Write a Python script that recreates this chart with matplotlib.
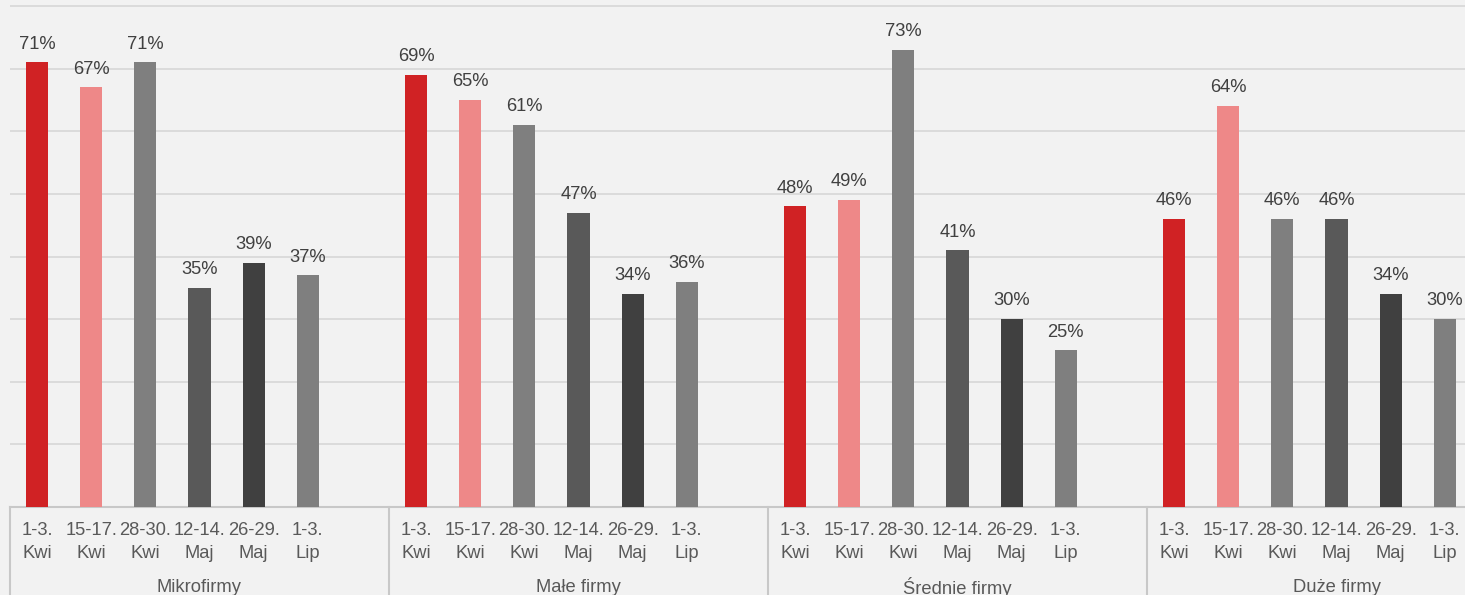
import matplotlib
matplotlib.use("Agg")
import matplotlib.pyplot as plt
from matplotlib.lines import Line2D
import matplotlib.transforms as mtransforms

plt.rcParams['font.family'] = ['Liberation Sans', 'DejaVu Sans']

groups = ["Mikrofirmy", "Małe firmy", "Średnie firmy", "Duże firmy"]
periods = ["1-3.\nKwi", "15-17.\nKwi", "28-30.\nKwi", "12-14.\nMaj", "26-29.\nMaj", "1-3.\nLip"]
mikro = [71, 67, 71, 35, 39, 37]
male = [69, 65, 61, 47, 34, 36]
srednie = [48, 49, 73, 41, 30, 25]
duze = [46, 64, 46, 46, 34, 30]
series_by_group = [mikro, male, srednie, duze]
colors = ["#d02224", "#ee8888", "#7f7f7f", "#595959", "#404040", "#7f7f7f"]

W, H = 1465, 595
fig = plt.figure(figsize=(W / 100, H / 100), dpi=100)
fig.patch.set_facecolor("#f2f2f2")

n_slots = 7 * len(groups)
left_px, base_px, grid_top_px, top_px = 10, 507, 6, 3
slot_px = 379 / 7
right_px = left_px + n_slots * slot_px
ax = fig.add_axes([left_px / W, (H - base_px) / H, (right_px - left_px) / W, (base_px - top_px) / H])
ax.set_facecolor("#f2f2f2")

FS = 13.2
xs, labels = [], []
for g, vals in enumerate(series_by_group):
    for j, v in enumerate(vals):
        x = g * 7 + j
        ax.bar(x, v, width=0.41, color=colors[j], zorder=3)
        ax.annotate(f"{v}%", (x, v), xytext=(0, 7), textcoords="offset points",
                    ha="center", va="bottom", fontsize=FS, color="#404040")
        xs.append(x)
        labels.append(periods[j])

ax.set_xlim(-0.5, n_slots - 0.5)
ax.set_ylim(0, 80 * (base_px - top_px) / (base_px - grid_top_px))
ax.set_yticks(range(0, 81, 10))
ax.yaxis.grid(True, color="#d9d9d9", linewidth=1.3, zorder=0)
ax.tick_params(axis="y", length=0, labelleft=False)
ax.set_xticks(xs)
ax.set_xticklabels(labels, fontsize=FS, color="#595959", linespacing=1.45)
ax.tick_params(axis="x", length=0, pad=11)
for s in ["left", "right", "top"]:
    ax.spines[s].set_visible(False)
ax.spines["bottom"].set_color("#c8c8c8")
ax.spines["bottom"].set_linewidth(1.5)

trans = mtransforms.blended_transform_factory(ax.transData, fig.transFigure)
for g, name in enumerate(groups):
    ax.text(g * 7 + 3.0, 8 / H, name, transform=trans, ha="center", va="center",
            fontsize=FS, color="#595959")
    xb = g * 7 - 0.5
    ax.add_line(Line2D([xb, xb], [0, (H - base_px) / H], transform=trans,
                       color="#c8c8c8", linewidth=1.5, clip_on=False))

fig.savefig("out.png", dpi=100, facecolor=fig.get_facecolor())
